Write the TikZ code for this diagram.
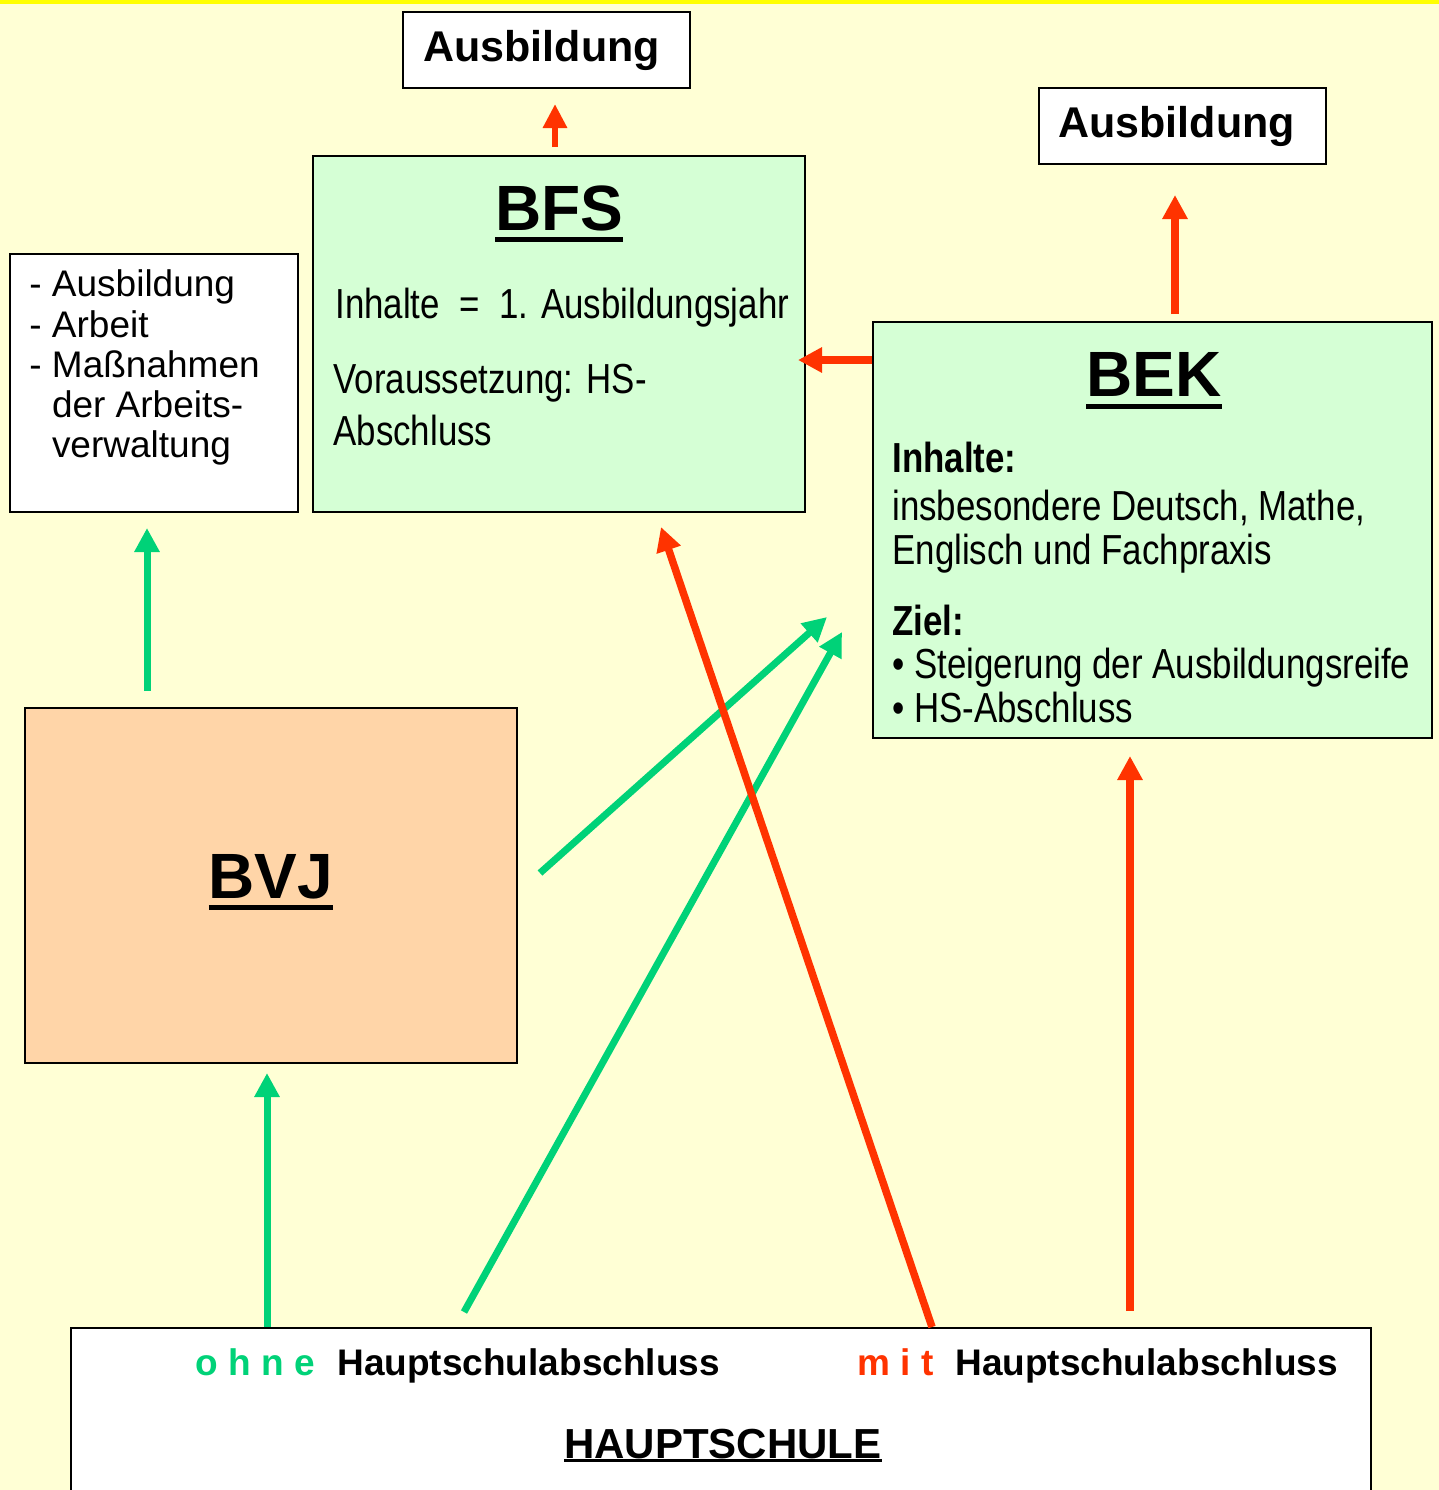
\documentclass[tikz,border=0pt]{standalone}
\usepackage{fontspec}
\setmainfont{Liberation Sans}
\newfontfamily\narrowfont[FakeStretch=0.83]{Liberation Sans}
\usetikzlibrary{arrows.meta}
\definecolor{bgyellow}{HTML}{FFFFD5}
\definecolor{topyellow}{HTML}{FFFF00}
\definecolor{boxgreen}{HTML}{D5FFD5}
\definecolor{boxpeach}{HTML}{FFD5A8}
\definecolor{arrowgreen}{HTML}{00D278}
\definecolor{arrowred}{HTML}{FF3300}
\newcommand\ulbox[3]{\setbox0=\hbox{#1}\rlap{\rule[#2]{\wd0}{#3}}\box0}
\begin{document}
\begin{tikzpicture}[x=0.5pt,y=-0.5pt,
  box/.style={draw=black, line width=1pt, inner sep=0pt, anchor=center},
  txt/.style={inner sep=0pt, anchor=base west},
  titletxt/.style={inner sep=0pt, anchor=base, font=\fontsize{32pt}{32pt}\selectfont\bfseries},
  narrowtxt/.style={txt, font=\narrowfont\fontsize{21pt}{21pt}\selectfont},
  narrowbold/.style={txt, font=\narrowfont\fontsize{21pt}{21pt}\selectfont\bfseries},
  listtxt/.style={txt, font=\fontsize{18.5pt}{18.5pt}\selectfont},
  hstxt/.style={txt, font=\fontsize{18.5pt}{18.5pt}\selectfont\bfseries},
  austxt/.style={txt, font=\fontsize{21.5pt}{21.5pt}\selectfont\bfseries},
  greenarrow/.style={draw=arrowgreen, line width=3.5pt, -{Triangle[width=12pt,length=12pt]}},
  redarrow/.style={draw=arrowred, line width=3.75pt, -{Triangle[width=12pt,length=12pt]}},
  redsmall/.style={draw=arrowred, line width=3pt, -{Triangle[width=11.5pt,length=12pt]}}
]
\useasboundingbox (0,0) rectangle (1439,1490);
\clip (0,0) rectangle (1439,1490);
\fill[bgyellow] (0,0) rectangle (1439,1490);
\fill[topyellow] (0,0) rectangle (1439,4);

% boxes
\node[box, fill=white, minimum width=143.5pt, minimum height=38pt] (aus1) at (546.5,50) {};
\node[box, fill=boxgreen, minimum width=246pt, minimum height=178pt] (bfs) at (559,334) {};
\node[box, fill=white, minimum width=144pt, minimum height=129pt] (opts) at (154,383) {};
\node[box, fill=boxpeach, minimum width=246pt, minimum height=177.5pt] (bvj) at (271,885.5) {};
\node[box, fill=white, minimum width=143.5pt, minimum height=38pt] (aus2) at (1182.5,126) {};
\node[box, fill=boxgreen, minimum width=279.5pt, minimum height=208pt] (bek) at (1152.5,530) {};
\node[box, fill=white, minimum width=650pt, minimum height=91pt] (hs) at (721,1419) {};

% texts
\node[austxt] (aus1t) at (423,61) {Ausbildung};
\node[austxt] (aus2t) at (1058,137) {Ausbildung};

\node[titletxt] (bfst) at (559,230) {\ulbox{BFS}{-6pt}{2.5pt}};
\node[narrowtxt] (bfs1) at (335,318) {Inhalte\ \ =\ \ 1. Ausbildungsjahr};
\node[narrowtxt] (bfs2) at (333,393) {Voraussetzung: HS-};
\node[narrowtxt] (bfs3) at (333,445) {Abschluss};

\node[listtxt] (o1) at (29,296) {- Ausbildung};
\node[listtxt] (o2) at (29,337) {- Arbeit};
\node[listtxt] (o3) at (29,377) {- Maßnahmen};
\node[listtxt] (o4) at (29,417) {\phantom{- }der Arbeits-};
\node[listtxt] (o5) at (29,457) {\phantom{- }verwaltung};

\node[titletxt] (bvjt) at (271,898) {\ulbox{BVJ}{-6pt}{2.5pt}};

\node[titletxt] (bekt) at (1154,396) {\ulbox{BEK}{-6.5pt}{2.5pt}};
\node[narrowbold] (bek1) at (892,472) {Inhalte:};
\node[narrowtxt] (bek2) at (892,520) {insbesondere Deutsch, Mathe,};
\node[narrowtxt] (bek3) at (892,564) {Englisch und Fachpraxis};
\node[narrowbold] (bek4) at (892,635) {Ziel:};
\node[narrowtxt] (bek5) at (892,678) {• Steigerung der Ausbildungsreife};
\node[narrowtxt] (bek6) at (892,722) {• HS-Abschluss};

\node[hstxt, text=arrowgreen] (ohne) at (195,1375) {o h n e};
\node[hstxt] (hs1) at (337,1375) {Hauptschulabschluss};
\node[hstxt, text=arrowred] (mit) at (857,1375) {m i t};
\node[hstxt] (hs2) at (955,1375) {Hauptschulabschluss};
\node[inner sep=0pt, anchor=base, font=\fontsize{21pt}{21pt}\selectfont\bfseries] (hst) at (723,1458) {\ulbox{HAUPTSCHULE}{-2pt}{1.5pt}};

% coordinates for free ends
\coordinate (g1s) at (540,873);
\coordinate (g1e) at (827,617);
\coordinate (g2s) at (464,1312);
\coordinate (g2e) at (842,632);
\coordinate (rle) at (661,527);

% connectors
\draw[redsmall, shorten <=4pt, shorten >=7.5pt] ([xshift=-2pt]bfs.north) -- ([xshift=4.25pt]aus1.south);
\draw[redarrow, shorten >=-4pt] ([yshift=85pt]bek.west) -- ([yshift=-13pt]bfs.east);
\draw[redarrow, shorten <=3.5pt, shorten >=15pt] ([xshift=11.25pt]bek.north) -- ([xshift=-3.75pt]aus2.south);
\draw[greenarrow, shorten <=8pt, shorten >=7.5pt] ([xshift=-62pt]bvj.north) -- ([xshift=-3.5pt]opts.south);
\draw[greenarrow, shorten >=4.5pt] ([xshift=-227pt]hs.north) -- ([xshift=-2pt]bvj.south);
\draw[greenarrow] (g1s) -- (g1e);
\draw[greenarrow] (g2s) -- (g2e);
\draw[redarrow] ([xshift=105.5pt]hs.north) -- (rle);
\draw[redarrow, shorten <=8pt, shorten >=8.5pt] ([xshift=204.5pt]hs.north) -- ([xshift=-11.25pt]bek.south);
\end{tikzpicture}
\end{document}
